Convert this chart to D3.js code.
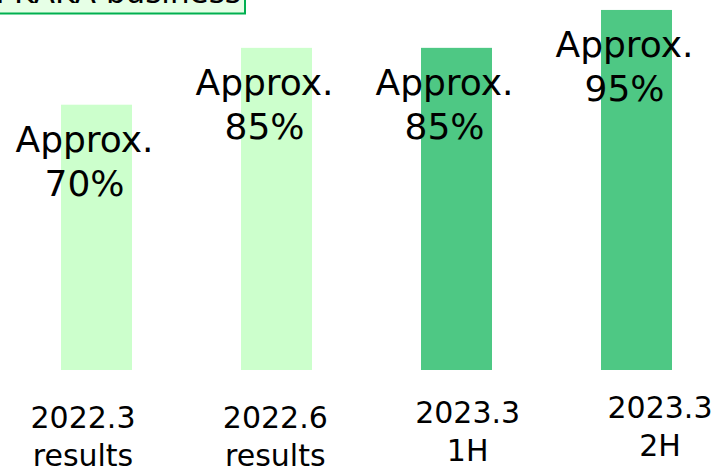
<!DOCTYPE html>
<html><head><meta charset="utf-8">
<script src="https://cdn.jsdelivr.net/npm/d3@7"></script>
<style>
html,body{margin:0;padding:0;background:#fff;overflow:hidden;}
text{font-family:"DejaVu Sans",Verdana,sans-serif;fill:#000;}
</style></head>
<body>
<svg id="chart" width="721" height="466"></svg>
<script>
const categories = ["2022.3", "2022.6", "2023.3", "2023.3"];
const subLabels = ["results", "results", "1H", "2H"];
const values = [70, 85, 85, 95];
const valuePrefix = "Approx.";
const barKinds = ["result", "result", "plan", "plan"];
const titleText = "Ratio in KAKA business";

const svg = d3.select("#chart");
const colors = {result: "#ccffcc", plan: "#4ec884"};

const x = d3.scaleBand().domain(d3.range(categories.length))
  .range([6.5, 726.5]).paddingInner(0.6056).paddingOuter(0.3028);
const y = d3.scaleLinear().domain([0, 100]).range([370, -9]);
const xl = d3.scalePoint().domain(d3.range(categories.length)).range([83, 660]);

// title box (cut off at top)
svg.append("rect").attr("x", -2).attr("y", -20).attr("width", 247).attr("height", 33.5)
  .attr("fill", "#e6ffe6").attr("stroke", "#00b050").attr("stroke-width", 2);
svg.append("text").attr("x", 241).attr("y", 3).attr("text-anchor", "end")
  .style("font-size", "31px").text(titleText);

// bars
svg.selectAll("rect.bar").data(values).join("rect").attr("class", "bar")
  .attr("x", (d, i) => x(i)).attr("width", x.bandwidth())
  .attr("y", d => y(d)).attr("height", d => y(0) - y(d))
  .attr("fill", (d, i) => colors[barKinds[i]]);

// value labels
const vl = svg.selectAll("text.val").data(values).join("text").attr("class", "val")
  .attr("text-anchor", "middle").style("font-size", "36px")
  .attr("transform", (d, i) => `translate(${x(i) + x.bandwidth() / 2 - 12},${y(d) + 47})`);
vl.append("tspan").attr("x", 0).attr("y", 0).text(valuePrefix);
vl.append("tspan").attr("x", 0).attr("y", 44).text(d => d + "%");

// category labels
const cl = svg.selectAll("text.cat").data(categories).join("text").attr("class", "cat")
  .attr("text-anchor", "middle").style("font-size", "30px")
  .attr("transform", (d, i) => `translate(${xl(i)},${428 - Math.max(0, i - 1) * 5})`);
cl.append("tspan").attr("x", 0).attr("y", 0).text(d => d);
cl.append("tspan").attr("x", 0).attr("y", 38).text((d, i) => subLabels[i]);
</script>
</body></html>
